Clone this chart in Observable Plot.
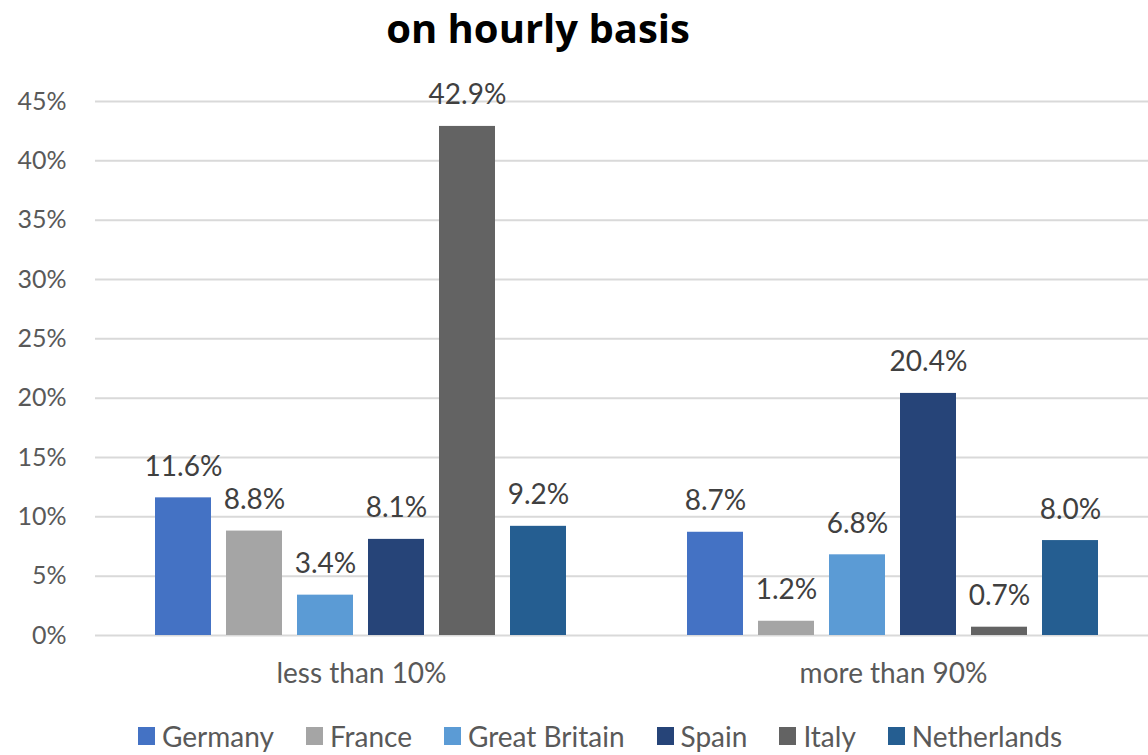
<!DOCTYPE html>
<html>
<head>
<meta charset="utf-8">
<script src="https://cdn.jsdelivr.net/npm/d3@7"></script>
<script src="https://cdn.jsdelivr.net/npm/@observablehq/plot@0.6"></script>
<style>
  html, body { margin: 0; padding: 0; background: #fff; width: 1148px; height: 755px; overflow: hidden; }
  #wrap { position: relative; width: 1148px; height: 755px; overflow: hidden; }
  #title { position: absolute; top: 0px; left: 0; width: 1076px; text-align: center; font-family: "Open Sans", sans-serif; font-weight: 700; font-size: 40px; line-height: 56px; color: #000; }
  #chart { position: absolute; top: 0; left: 0; }
  #chart svg { max-width: none !important; }
  #legend { position: absolute; top: 719px; left: 138px; display: flex; align-items: center; font-family: Lato, sans-serif; font-size: 28px; line-height: 34px; color: #595959; white-space: nowrap; }
  .item { display: flex; align-items: center; margin-right: 32px; }
  .sw { width: 17px; height: 18px; margin-right: 7px; }
</style>
</head>
<body>
<div id="wrap">
  <div id="title">on hourly basis</div>
  <div id="chart"></div>
  <div id="legend"></div>
</div>
<script>
const groups = ["less than 10%", "more than 90%"];
const countries = ["Germany", "France", "Great Britain", "Spain", "Italy", "Netherlands"];
const colors = ["#4472C4", "#A5A5A5", "#5B9BD5", "#264478", "#636363", "#255E91"];
const lessThan10 = [11.6, 8.8, 3.4, 8.1, 42.9, 9.2];
const moreThan90 = [8.7, 1.2, 6.8, 20.4, 0.7, 8.0];
const yTicks = [0, 5, 10, 15, 20, 25, 30, 35, 40, 45];

const data = [];
countries.forEach((c, i) => data.push({group: groups[0], country: c, value: lessThan10[i]}));
countries.forEach((c, i) => data.push({group: groups[1], country: c, value: moreThan90[i]}));

const chart = Plot.plot({
  width: 1159,
  height: 700,
  marginLeft: 95,
  marginRight: 0,
  marginTop: 101,
  marginBottom: 65,
  style: {fontFamily: "Lato, sans-serif", color: "#595959", background: "transparent", maxWidth: "none"},
  fx: {domain: groups, padding: 0, label: null},
  x: {domain: countries, paddingInner: 0.21, paddingOuter: 0.85, axis: null},
  y: {domain: [0, 45], label: null},
  color: {domain: countries, range: colors},
  marks: [
    Plot.gridY(yTicks, {stroke: "#D9D9D9", strokeOpacity: 1, strokeWidth: 2}),
    Plot.axisY(yTicks, {tickSize: 0, tickPadding: 29, tickFormat: d => d + "%", fontSize: 25, fill: "#595959", label: null}),
    Plot.axisFx({anchor: "bottom", tickSize: 0, tickPadding: 28, fontSize: 28, fill: "#595959", label: null}),
    Plot.barY(data, {fx: "group", x: "country", y: "value", fill: "country"}),
    Plot.text(data, {fx: "group", x: "country", y: "value", text: d => d.value.toFixed(1) + "%", dy: -31, fontSize: 28, fill: "#404040", textAnchor: "middle", lineAnchor: "middle"})
  ]
});
document.getElementById("chart").appendChild(chart);

const legend = document.getElementById("legend");
countries.forEach((c, i) => {
  const item = document.createElement("div");
  item.className = "item";
  const sw = document.createElement("div");
  sw.className = "sw";
  sw.style.background = colors[i];
  const t = document.createElement("span");
  t.textContent = c;
  item.appendChild(sw);
  item.appendChild(t);
  legend.appendChild(item);
});
</script>
</body>
</html>
